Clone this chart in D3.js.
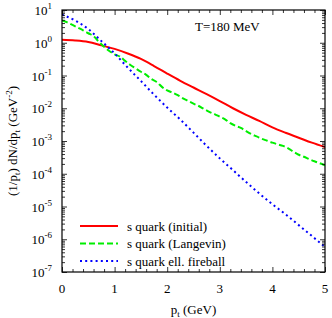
<!DOCTYPE html>
<html><head><meta charset="utf-8">
<script src="https://cdn.jsdelivr.net/npm/d3@7"></script>
<style>body{margin:0;background:#fff}svg{display:block}text{font-family:"Liberation Serif","Times New Roman",serif;fill:#000}</style>
</head><body>
<script>
const ptRed = [0,0.25,0.5,0.75,1,1.25,1.5,1.75,2,2.25,2.5,2.75,3,3.25,3.5,3.75,4,4.25,4.5,4.75,5];
const valRed = [1.23,1.17,1.05,0.83,0.65,0.47,0.32,0.195,0.115,0.069,0.043,0.027,0.0166,0.0100,0.0063,0.0041,0.0026,0.00178,0.00126,0.00089,0.00065];
const ptGreen = [0,0.1,0.2,0.3,0.4,0.5,0.6,0.7,0.8,0.9,1,1.1,1.2,1.3,1.4,1.5,1.6,1.7,1.8,1.9,2,2.1,2.2,2.3,2.4,2.5,2.6,2.7,2.8,2.9,3,3.1,3.2,3.3,3.4,3.5,3.6,3.7,3.8,3.9,4,4.1,4.2,4.3,4.4,4.5,4.6,4.7,4.8,4.9,5];
const valGreen = [4.8,4.2,3.5,2.9,2.4,1.95,1.6,1.07,0.76,0.56,0.44,0.38,0.28,0.21,0.165,0.13,0.105,0.078,0.063,0.045,0.035,0.030,0.025,0.020,0.0166,0.0138,0.0117,0.0095,0.0078,0.0066,0.0055,0.0046,0.0035,0.0029,0.0025,0.0020,0.00162,0.00138,0.00117,0.00102,0.00089,0.00079,0.00071,0.0006,0.00047,0.00038,0.00033,0.00028,0.00024,0.00021,0.00018];
const ptBlue = [0,0.25,0.5,0.75,1,1.25,1.5,1.75,2,2.25,2.5,2.75,3,3.25,3.5,3.75,4,4.25,4.5,4.75,5];
const valBlue = [7.2,4.8,2.6,1.12,0.47,0.174,0.068,0.026,0.0105,0.0045,0.0018,0.00071,0.000295,0.000129,5.6e-5,2.5e-5,1.17e-5,5.8e-6,2.7e-6,1.26e-6,5.8e-7];
const xTicks = [0,1,2,3,4,5];
const yExps = [1,0,-1,-2,-3,-4,-5,-6,-7];
const legendLabels = ["s quark (initial)","s quark (Langevin)","s quark ell. fireball"];

const W=332,H=318, L=62, R=325, T=10, B=272;
const svg = d3.select("body").append("svg").attr("width",W).attr("height",H);
const x = d3.scaleLinear().domain([0,5]).range([L,R]);
const y = d3.scaleLog().domain([1e-7,10]).range([B,T]);

const series = [
  {pt:ptRed, v:valRed, color:"#ff0000", dash:null},
  {pt:ptGreen, v:valGreen, color:"#00ee00", dash:"6,3"},
  {pt:ptBlue, v:valBlue, color:"#0000ff", dash:"2,3.2"}
];
const line = d3.line().x(d=>x(d[0])).y(d=>y(d[1])).curve(d3.curveMonotoneX);
svg.append("clipPath").attr("id","c").append("rect").attr("x",L).attr("y",T).attr("width",R-L).attr("height",B-T);
const g = svg.append("g").attr("clip-path","url(#c)");
series.forEach(s=>{
  g.append("path").attr("d",line(s.pt.map((p,i)=>[p,s.v[i]])))
   .attr("fill","none").attr("stroke",s.color).attr("stroke-width",2)
   .attr("stroke-dasharray",s.dash);
});

const xMinor = d3.range(0,5.001,0.2).filter(v=>Math.abs(v-Math.round(v))>1e-6);
const yMinor = [];
for(let e=-7;e<1;e++) for(let m=2;m<10;m++) yMinor.push(m*Math.pow(10,e));
svg.append("g").attr("transform",`translate(0,${B})`).call(d3.axisBottom(x).tickValues(xTicks).tickSizeInner(-5).tickSizeOuter(0).tickFormat(""));
svg.append("g").attr("transform",`translate(0,${B})`).call(d3.axisBottom(x).tickValues(xMinor).tickSizeInner(-3).tickSizeOuter(0).tickFormat(""));
svg.append("g").attr("transform",`translate(0,${T})`).call(d3.axisTop(x).tickValues(xTicks).tickSizeInner(-5).tickSizeOuter(0).tickFormat(""));
svg.append("g").attr("transform",`translate(0,${T})`).call(d3.axisTop(x).tickValues(xMinor).tickSizeInner(-3).tickSizeOuter(0).tickFormat(""));
const yMajor = yExps.map(e=>Math.pow(10,e));
svg.append("g").attr("transform",`translate(${L},0)`).call(d3.axisLeft(y).tickValues(yMajor).tickSizeInner(-5).tickSizeOuter(0).tickFormat(""));
svg.append("g").attr("transform",`translate(${L},0)`).call(d3.axisLeft(y).tickValues(yMinor).tickSizeInner(-3).tickSizeOuter(0).tickFormat(""));
svg.append("g").attr("transform",`translate(${R},0)`).call(d3.axisRight(y).tickValues(yMajor).tickSizeInner(-5).tickSizeOuter(0).tickFormat(""));
svg.append("g").attr("transform",`translate(${R},0)`).call(d3.axisRight(y).tickValues(yMinor).tickSizeInner(-3).tickSizeOuter(0).tickFormat(""));
svg.selectAll(".domain").remove();
svg.selectAll(".tick line").attr("stroke","#000").attr("stroke-width",0.8);
svg.append("rect").attr("x",L).attr("y",T).attr("width",R-L).attr("height",B-T).attr("fill","none").attr("stroke","#000").attr("stroke-width",1.2);

xTicks.forEach(v=>{
  svg.append("text").attr("x",x(v)).attr("y",B+21).attr("text-anchor","middle").attr("font-size",13).text(v);
});
yExps.forEach(e=>{
  const t = svg.append("text").attr("x",52).attr("y",y(Math.pow(10,e))+5).attr("text-anchor","end").attr("font-size",13);
  t.append("tspan").text("10");
  t.append("tspan").attr("dy",-6).attr("font-size",9).text(String(e));
});

const xt = svg.append("text").attr("x",(L+R)/2).attr("y",B+42).attr("text-anchor","middle").attr("font-size",13);
xt.append("tspan").text("p");
xt.append("tspan").attr("dy",3).attr("font-size",9).text("t");
xt.append("tspan").attr("dy",-3).text(" (GeV)");

const yt = svg.append("text").attr("transform",`translate(17,${(T+B)/2}) rotate(-90)`).attr("text-anchor","middle").attr("font-size",13);
yt.append("tspan").text("(1/p");
yt.append("tspan").attr("dy",3).attr("font-size",9).text("t");
yt.append("tspan").attr("dy",-3).text(") dN/dp");
yt.append("tspan").attr("dy",3).attr("font-size",9).text("t");
yt.append("tspan").attr("dy",-3).text(" (GeV");
yt.append("tspan").attr("dy",-5).attr("font-size",9).text("-2");
yt.append("tspan").attr("dy",5).text(")");

svg.append("text").attr("x",195).attr("y",31).attr("font-size",13).text("T=180 MeV");

const ly = [226,243.5,261];
series.forEach((s,i)=>{
  svg.append("line").attr("x1",80).attr("x2",118).attr("y1",ly[i]).attr("y2",ly[i])
    .attr("stroke",s.color).attr("stroke-width",2).attr("stroke-dasharray",s.dash);
  svg.append("text").attr("x",127).attr("y",ly[i]+4.5).attr("font-size",13).text(legendLabels[i]);
});
</script>
</body></html>
